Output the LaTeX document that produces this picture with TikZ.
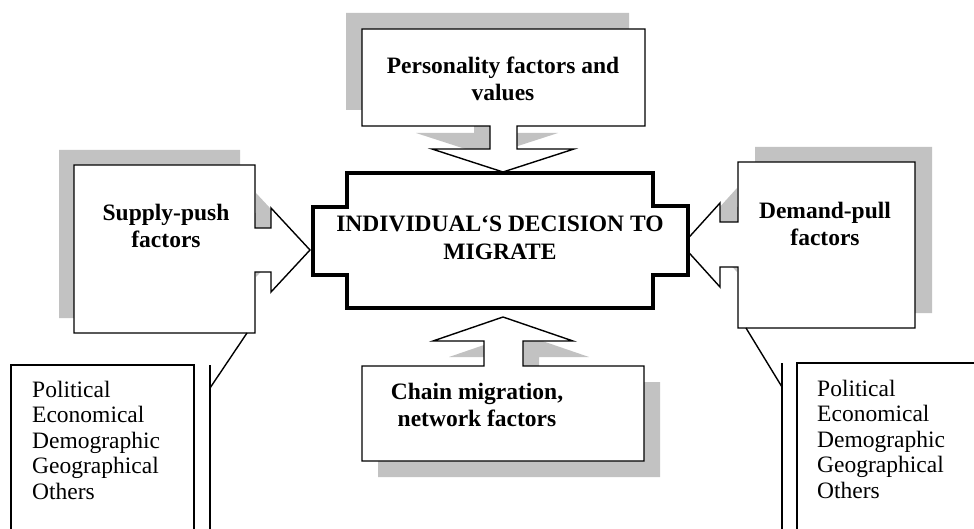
\documentclass[tikz,border=0pt]{standalone}
\usepackage{fontspec}
\setmainfont{Liberation Serif}
\definecolor{shadowgray}{RGB}{194,194,194}

\begin{document}
\begin{tikzpicture}[x=1pt, y=-1pt,
    shadow/.style = {fill = shadowgray, draw = none},
    callbox/.style = {draw = black, fill = white, line width = 1.4pt, line join = miter},
    centrebox/.style = {draw = black, fill = white, line width = 3.2pt, line join = miter},
    thin line/.style = {draw = black, line width = 1.4pt},
    boldtext/.style = {inner sep = 0pt, align = center, font = \fontsize{23.5}{27}\selectfont\bfseries},
    listtext/.style = {inner sep = 0pt, align = left, anchor = west, font = \fontsize{23.5}{25.5}\selectfont}]
    \useasboundingbox (0,0) rectangle (974,529);

    % shadows
    \fill[shadow, shift = {(-16,-16)}] (362,29) -- (645,29) -- (645,126) -- (517,126) -- (517,149) -- (574,149) -- (503,172) -- (432,149) -- (490,149) -- (490,126) -- (362,126) -- cycle;
    \fill[shadow, shift = {(-15,-15)}] (74,165) -- (255,165) -- (255,228) -- (271,228) -- (271,208) -- (310,250) -- (271,292) -- (271,272) -- (255,272) -- (255,333) -- (74,333) -- cycle;
    \fill[shadow, shift = {(17,-15)}] (738,162) -- (915,162) -- (915,328) -- (738,328) -- (738,267) -- (720,267) -- (720,287) -- (682,245) -- (720,203) -- (720,222) -- (738,222) -- cycle;
    \fill[shadow, shift = {(16,16)}] (362,366) -- (484,366) -- (484,341) -- (433,341) -- (503,317) -- (573,341) -- (523,341) -- (523,366) -- (644,366) -- (644,461) -- (362,461) -- cycle;

    % factor boxes with their arrows
    \draw[callbox] (362,29) -- (645,29) -- (645,126) -- (517,126) -- (517,149) -- (574,149) -- (503,172) -- (432,149) -- (490,149) -- (490,126) -- (362,126) -- cycle;
    \draw[callbox] (74,165) -- (255,165) -- (255,228) -- (271,228) -- (271,208) -- (310,250) -- (271,292) -- (271,272) -- (255,272) -- (255,333) -- (74,333) -- cycle;
    \draw[callbox] (738,162) -- (915,162) -- (915,328) -- (738,328) -- (738,267) -- (720,267) -- (720,287) -- (682,245) -- (720,203) -- (720,222) -- (738,222) -- cycle;
    \draw[callbox] (362,366) -- (484,366) -- (484,341) -- (433,341) -- (503,317) -- (573,341) -- (523,341) -- (523,366) -- (644,366) -- (644,461) -- (362,461) -- cycle;

    % decision box
    \draw[centrebox] (347,173) -- (653,173) -- (653,206) -- (688,206) -- (688,275) -- (653,275) -- (653,308) -- (347,308) -- (347,275) -- (313,275) -- (313,207) -- (347,207) -- cycle;

    \node[boldtext] (personality) at (503,79) {Personality factors and\\values};
    \node[boldtext] (push) at (166,226) {Supply-push\\factors};
    \node[boldtext] (pull) at (825,224) {Demand-pull\\factors};
    \node[boldtext] (chain) at (477,405) {Chain migration,\\network factors};
    \node[boldtext, font = \fontsize{23.5}{28}\selectfont\bfseries] (decision) at (500,238) {INDIVIDUAL`S DECISION TO\\MIGRATE};

    % callouts
    \draw[thin line] (11,535) -- (11,365) -- (194,365) -- (194,535);
    \draw[thin line] (797,535) -- (797,363) -- (980,363);
    \node[listtext] (pushlist) at (32,440) {Political\\Economical\\Demographic\\Geographical\\Others};
    \node[listtext] (pulllist) at (817,439) {Political\\Economical\\Demographic\\Geographical\\Others};

    \coordinate (pushfoot) at (247,333);
    \coordinate (pushbend) at (210,388);
    \coordinate (pushbar top) at (210,365);
    \coordinate (pushbar end) at (210,535);
    \coordinate (pullfoot) at (746,328);
    \coordinate (pullbend) at (782,387);
    \coordinate (pullbar top) at (782,363);
    \coordinate (pullbar end) at (782,535);
    \draw[thin line] (pushfoot) -- (pushbend);
    \draw[thin line] (pushbar top) -- (pushbar end);
    \draw[thin line] (pullfoot) -- (pullbend);
    \draw[thin line] (pullbar top) -- (pullbar end);
\end{tikzpicture}
\end{document}
